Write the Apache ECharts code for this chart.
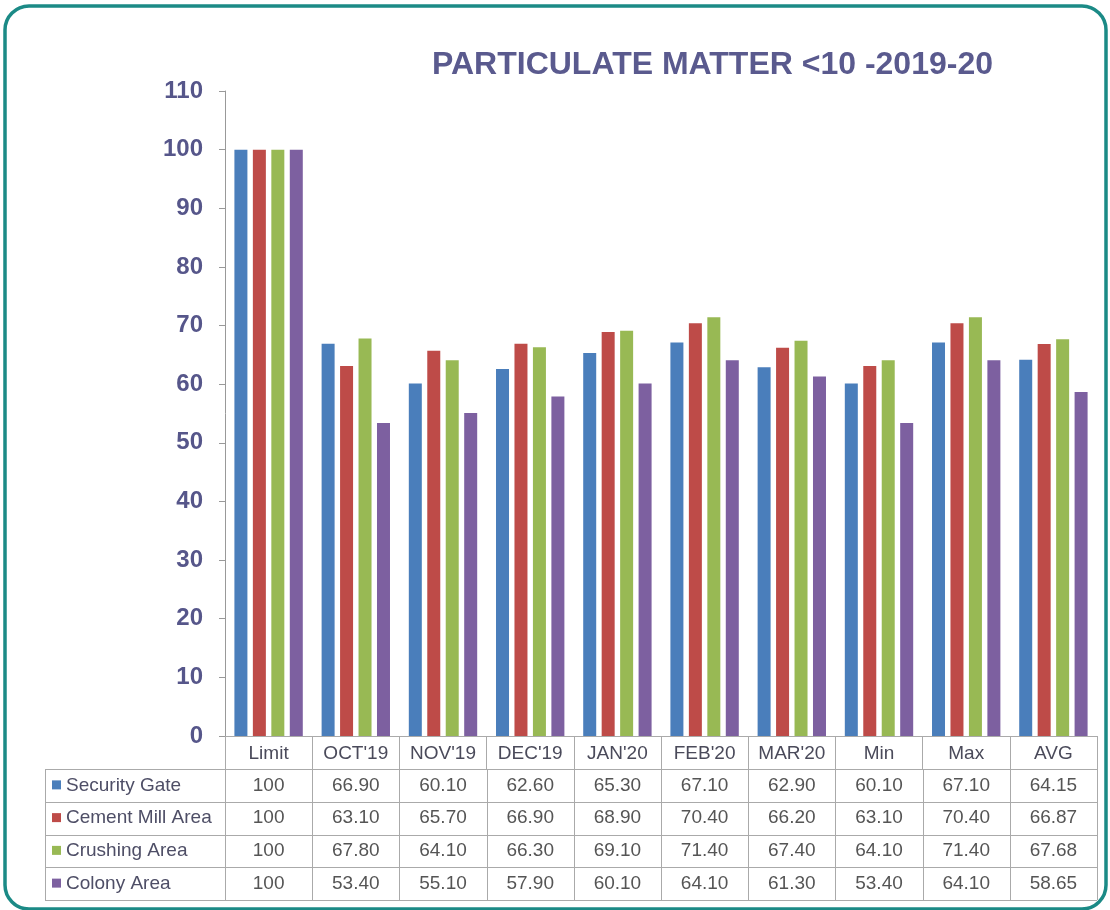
<!DOCTYPE html>
<html>
<head>
<meta charset="utf-8">
<script src="https://cdn.jsdelivr.net/npm/echarts@6/dist/echarts.min.js"></script>
<style>
  html, body { margin: 0; padding: 0; background: #fff; }
  #main { width: 1110px; height: 910px; }
</style>
</head>
<body>
<div id="main"></div>
<script>
const categories = ['Limit', "OCT'19", "NOV'19", "DEC'19", "JAN'20", "FEB'20", "MAR'20", 'Min', 'Max', 'AVG']
const seriesNames = ['Security Gate', 'Cement Mill Area', 'Crushing Area', 'Colony Area']
const securityGate = [100, 66.90, 60.10, 62.60, 65.30, 67.10, 62.90, 60.10, 67.10, 64.15]
const cementMill = [100, 63.10, 65.70, 66.90, 68.90, 70.40, 66.20, 63.10, 70.40, 66.87]
const crushingArea = [100, 67.80, 64.10, 66.30, 69.10, 71.40, 67.40, 64.10, 71.40, 67.68]
const colonyArea = [100, 53.40, 55.10, 57.90, 60.10, 64.10, 61.30, 53.40, 64.10, 58.65]
const yTicks = { min: 0, max: 110, interval: 10 }

const seriesData = [securityGate, cementMill, crushingArea, colonyArea]
const colors = ['#4a7ebb', '#be4b48', '#98b954', '#7d60a0']

const chart = echarts.init(document.getElementById('main'))

// 网格位置
const gridLeft = 225
const gridRight = 13
const axisY = 736
const tableTop = 769
const tableBottom = 900
const tableLeft = 45
const rowH = (tableBottom - tableTop) / seriesNames.length
const font = 'Liberation Sans, Arial, sans-serif'

const fmt = v => Number.isInteger(v) ? String(v) : v.toFixed(2)

chart.setOption({
  backgroundColor: '#fff',
  textStyle: { fontFamily: font },
  title: {
    text: 'PARTICULATE MATTER <10 -2019-20',
    left: 427,
    top: 44,
    textStyle: {
      fontSize: 32,
      fontWeight: 'bold',
      color: '#5a5a8e',
      fontFamily: font
    }
  },
  grid: {
    left: gridLeft,
    right: gridRight,
    top: 91,
    bottom: 910 - axisY
  },
  xAxis: {
    type: 'category',
    data: categories,
    boundaryGap: true,
    axisLine: { lineStyle: { color: '#aaa', width: 1 } },
    axisTick: { show: true, interval: 0, length: tableTop - axisY, lineStyle: { color: '#aaa' } },
    axisLabel: {
      interval: 0,
      margin: 8,
      fontSize: 19,
      color: '#4a4a5a',
      fontFamily: font
    }
  },
  yAxis: {
    type: 'value',
    min: yTicks.min,
    max: yTicks.max,
    interval: yTicks.interval,
    splitLine: { show: false },
    axisLine: { show: true, lineStyle: { color: '#999' } },
    axisTick: { show: true, length: 6, lineStyle: { color: '#999' } },
    axisLabel: {
      margin: 22,
      fontSize: 24,
      fontWeight: 'bold',
      color: '#56568a',
      fontFamily: font
    }
  },
  series: seriesNames.map((name, i) => ({
    name: name,
    type: 'bar',
    data: seriesData[i],
    barWidth: 13,
    barGap: '42%',
    itemStyle: { color: colors[i] }
  }))
})

// 底部数据表
const buildTable = () => {
  const g = []
  const catW = chart.convertToPixel({ xAxisIndex: 0 }, 1) - chart.convertToPixel({ xAxisIndex: 0 }, 0)
  const right = chart.convertToPixel({ xAxisIndex: 0 }, categories.length - 1) + catW / 2
  const lineStyle = { stroke: '#aaa', lineWidth: 1 }
  // horizontal lines
  for (let r = 0; r <= seriesNames.length; r++) {
    const y = Math.round(tableTop + r * rowH) + 0.5
    g.push({ type: 'line', shape: { x1: tableLeft, y1: y, x2: right, y2: y }, style: lineStyle, silent: true })
  }
  // vertical lines
  const xs = [tableLeft, gridLeft]
  categories.forEach((c, i) => {
    xs.push(chart.convertToPixel({ xAxisIndex: 0 }, i) + catW / 2)
  })
  xs.forEach(x => {
    const xx = Math.round(x) + 0.5
    g.push({ type: 'line', shape: { x1: xx, y1: tableTop, x2: xx, y2: tableBottom }, style: lineStyle, silent: true })
  })
  // row labels and values
  seriesNames.forEach((name, r) => {
    const cy = tableTop + r * rowH + rowH / 2
    g.push({ type: 'rect', shape: { x: 52, y: cy - 5, width: 9, height: 9 }, style: { fill: colors[r] }, silent: true })
    g.push({
      type: 'text', x: 66, y: cy,
      style: { text: name, fontSize: 19, fill: '#4e4e66', verticalAlign: 'middle', fontFamily: font },
      silent: true
    })
    seriesData[r].forEach((v, i) => {
      g.push({
        type: 'text', x: chart.convertToPixel({ xAxisIndex: 0 }, i), y: cy,
        style: { text: fmt(v), fontSize: 19, fill: '#555', align: 'center', verticalAlign: 'middle', fontFamily: font },
        silent: true
      })
    })
  })
  // 外框
  g.push({
    type: 'rect',
    shape: { x: 5, y: 6, width: 1101, height: 903, r: 24 },
    style: { fill: null, stroke: '#1b8a86', lineWidth: 3.5 },
    silent: true
  })
  chart.setOption({ graphic: g })
}

buildTable()
</script>
</body>
</html>
